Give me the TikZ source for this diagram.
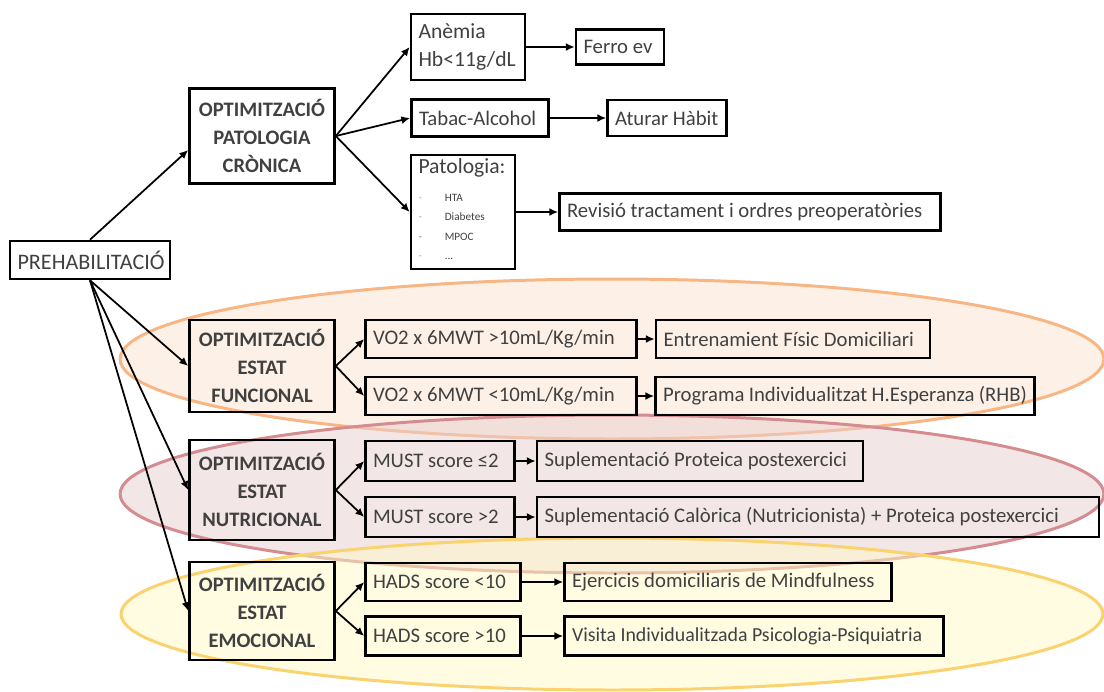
\documentclass[tikz,border=0pt]{standalone}
\usepackage{fontspec}
\setmainfont{Carlito}
\usetikzlibrary{positioning, arrows.meta}

\definecolor{txtgray}{RGB}{64,64,64}
\definecolor{funcfill}{RGB}{251,226,206}
\definecolor{funcline}{RGB}{247,182,132}
\definecolor{nutrifill}{RGB}{232,206,207}
\definecolor{nutriline}{RGB}{212,140,145}
\definecolor{emocfill}{RGB}{255,249,198}
\definecolor{emocline}{RGB}{250,210,110}

\begin{document}
\begin{tikzpicture}[x=0.02cm, y=-0.02cm, text=txtgray, font=\fontsize{11.8}{14}\selectfont]
        % Define styles for shapes
        \tikzstyle{box} = [draw=black, line width=1.5pt, inner xsep=0.15cm, inner ysep=2pt, align=flush left, minimum height=0.76cm]
        \tikzstyle{optbox} = [box, align=flush center, text width=2.6cm, font=\bfseries\fontsize{11.7}{16}\selectfont]
        \tikzstyle{band} = [line width=1.7pt, fill opacity=0.5]
        \tikzstyle{link} = [draw=black, line width=1pt, -{Latex[length=5pt,width=4.5pt]}]
        \tikzstyle{nextlink} = [draw=black, line width=1.4pt, -{Latex[length=5pt,width=4.5pt]}]
        \useasboundingbox (0,0) rectangle (1104,691);

        % Background bands
        \draw[band, draw=funcline, fill=funcfill] (612,359) ellipse [x radius=9.84cm, y radius=1.6cm];
        \draw[band, draw=nutriline, fill=nutrifill] (612,494) ellipse [x radius=9.84cm, y radius=1.58cm];
        \draw[band, draw=emocline, fill=emocfill] (612,614) ellipse [x radius=9.82cm, y radius=1.52cm];

        % Draw shapes
        \node[box, align=flush center, text width=2.9cm, font=\fontsize{12.6}{15}\selectfont] (prehab) at (90,260) {PREHABILITACIÓ};

        \node[optbox, minimum height=1.9cm] (optcron) at (262,136) {OPTIMITZACIÓ\\PATOLOGIA\\CRÒNICA};
        \node[box, text width=1.98cm, minimum height=1.32cm, font=\fontsize{12.3}{15.5}\selectfont] (anemia) at (468,47) {Anèmia\\Hb<11g/dL};
        \node[box, text width=1.46cm, minimum height=0.7cm] (ferro) at (620,47) {Ferro ev};
        \node[box, text width=2.44cm, minimum height=0.74cm] (tabac) at (480,118) {Tabac-Alcohol};
        \node[box, text width=2.08cm, minimum height=0.72cm] (aturar) at (667,118) {Aturar Hàbit};
        \node[box, text width=1.78cm, minimum height=2.28cm, inner ysep=1pt] (patol) at (463,212) {
            {\fontsize{12.3}{14}\selectfont Patologia:}\\[5pt]
            {\fontsize{6.4}{11}\selectfont
                \begin{tabular}{@{}l@{\hspace{13pt}}l@{}}
                    {\color{gray!70}-} & HTA \\
                    {\color{gray!70}-} & Diabetes \\
                    {\color{gray}-} & MPOC \\
                    {\color{gray!70}-} & ... \\
                \end{tabular}}
        };
        \node[box, text width=7.32cm, minimum height=0.74cm] (revisio) at (750,212) {Revisió tractament i ordres preoperatòries};

        \node[optbox, minimum height=1.84cm] (func) at (262,366) {OPTIMITZACIÓ\\ESTAT\\FUNCIONAL};
        \node[box, text width=5.12cm] (vo2a) at (501,339) {VO2 x 6MWT >10mL/Kg/min};
        \node[box, text width=5.18cm] (entren) at (793,339) {Entrenamient Físic Domiciliari};
        \node[box, text width=5.12cm] (vo2b) at (501,396) {VO2 x 6MWT <10mL/Kg/min};
        \node[box, text width=7.28cm] (programa) at (845,396) {Programa Individualitzat H.Esperanza (RHB)};

        \node[optbox, minimum height=2cm] (nutri) at (262,490) {OPTIMITZACIÓ\\ESTAT\\NUTRICIONAL};
        \node[box, text width=2.68cm, minimum height=0.8cm] (musta) at (440,461) {MUST score ≤2};
        \node[box, text width=6.22cm, minimum height=0.8cm] (supla) at (700,461) {Suplementació Proteica postexercici};
        \node[box, text width=2.68cm, minimum height=0.8cm] (mustb) at (440,517) {MUST score >2};
        \node[box, text width=10.94cm, minimum height=0.8cm] (suplb) at (818,517) {Suplementació Calòrica (Nutricionista) + Proteica postexercici};

        \node[optbox, minimum height=1.96cm] (emoc) at (262,611) {OPTIMITZACIÓ\\ESTAT\\EMOCIONAL};
        \node[box, text width=2.8cm] (hadsa) at (443,582) {HADS score <10};
        \node[box, text width=6.24cm] (ejer) at (728,582) {Ejercicis domiciliaris de Mindfulness};
        \node[box, text width=2.8cm, minimum height=0.78cm] (hadsb) at (443,636) {HADS score >10};
        \node[box, text width=7.28cm, minimum height=0.78cm, font=\fontsize{11.3}{14}\selectfont] (visita) at (754,636) {\mbox{Visita Individualitzada Psicologia-Psiquiatria}};

        % Draw arrows
        \draw[link] (prehab.north) -- ([yshift=-0.28cm]optcron.west);
        \draw[link] (prehab.south) -- (func.west);
        \draw[link] (prehab.south) -- (nutri.west);
        \draw[link] (prehab.south) -- (emoc.west);

        \draw[link] (optcron.east) -- (anemia.west);
        \draw[link] (optcron.east) -- (tabac.west);
        \draw[link] (optcron.east) -- (patol.west);
        \draw[nextlink] (anemia) -- (ferro);
        \draw[nextlink] (tabac) -- (aturar);
        \draw[nextlink] (patol) -- (revisio);

        \draw[link] (func.east) -- (vo2a.west);
        \draw[link] (func.east) -- (vo2b.west);
        \draw[nextlink] (vo2a) -- (entren);
        \draw[nextlink] (vo2b) -- (programa);

        \draw[link] (nutri.east) -- (musta.west);
        \draw[link] (nutri.east) -- (mustb.west);
        \draw[nextlink] (musta) -- (supla);
        \draw[nextlink] (mustb) -- (suplb);

        \draw[link] (emoc.east) -- (hadsa.west);
        \draw[link] (emoc.east) -- (hadsb.west);
        \draw[nextlink] (hadsa) -- (ejer);
        \draw[nextlink] (hadsb) -- (visita);
    \end{tikzpicture}
\end{document}
